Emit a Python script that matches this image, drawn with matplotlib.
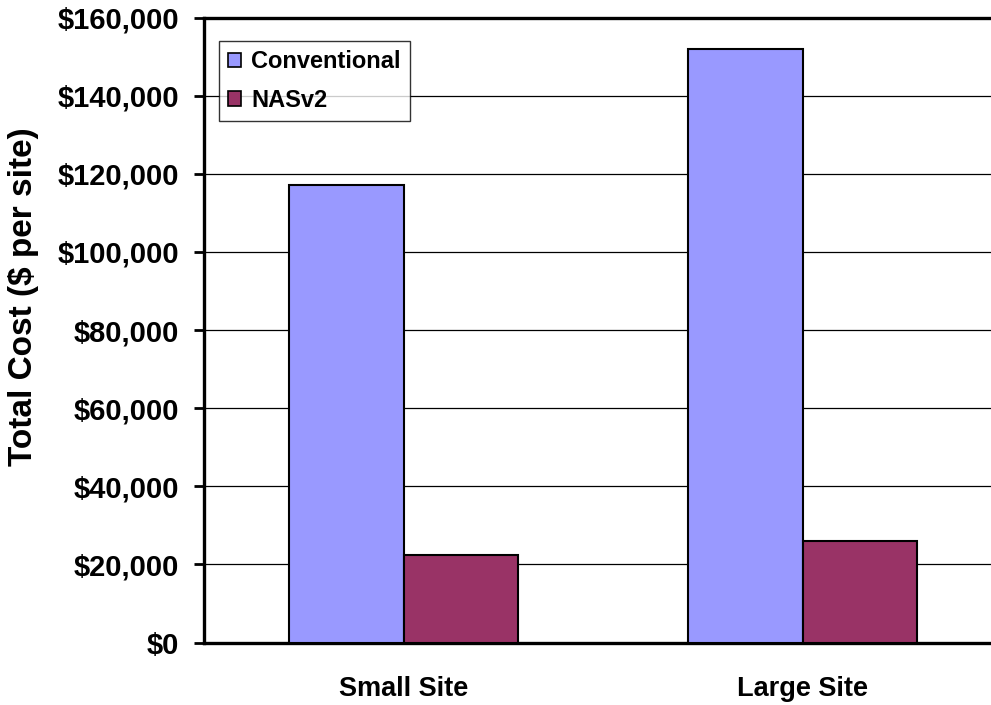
import numpy as np
import matplotlib
matplotlib.use("Agg")
import matplotlib.pyplot as plt
from matplotlib.ticker import FuncFormatter

plt.rcParams["font.family"] = ["Liberation Sans", "DejaVu Sans"]

sites = ["Small Site", "Large Site"]
conventional = [117000, 152000]
nasv2 = [22500, 26000]
y_ticks = [0, 20000, 40000, 60000, 80000, 100000, 120000, 140000, 160000]

W, H = 991, 705
fig = plt.figure(figsize=(W / 100, H / 100), dpi=100)
ax = fig.add_axes([204 / W, 1 - 642.5 / H, 798 / W, 625 / H])

x = np.arange(len(sites))
bw = 0.286
ax.bar(x - bw / 2, conventional, bw, color="#9999FF", edgecolor="black",
       linewidth=1.5, label="Conventional", zorder=3)
ax.bar(x + bw / 2, nasv2, bw, color="#993366", edgecolor="black",
       linewidth=1.5, label="NASv2", zorder=3)

ax.set_xlim(-0.5, 1.5)
ax.set_ylim(0, 160000)
ax.set_yticks(y_ticks)
ax.yaxis.set_major_formatter(FuncFormatter(lambda v, p: "${:,.0f}".format(v)))
ax.set_xticks(x)
ax.set_xticklabels(sites)

ax.grid(axis="y", color="black", linewidth=0.9, zorder=0)
for s in ["left", "bottom", "top", "right"]:
    ax.spines[s].set_linewidth(2.4)

ax.tick_params(axis="y", length=7, width=2.0, direction="out", pad=11,
               labelsize=21)
ax.tick_params(axis="x", length=0, pad=24, labelsize=19.5)
for lab in ax.get_yticklabels() + ax.get_xticklabels():
    lab.set_fontweight("bold")

ax.set_ylabel("Total Cost ($ per site)", fontsize=24, fontweight="bold",
              va="center")
ax.yaxis.set_label_coords(-0.2268, 0.553)

leg = ax.legend(loc="upper left", bbox_to_anchor=(0.0188, 0.9624),
                borderaxespad=0, prop={"weight": "bold", "size": 17},
                frameon=True, fancybox=False, edgecolor="black",
                handlelength=0.55, handleheight=0.55, handletextpad=0.4,
                labelspacing=0.65, borderpad=0.4)
leg.get_frame().set_linewidth(1.0)
for p in leg.get_patches():
    p.set_linewidth(1.2)

fig.savefig("out.png", dpi=100)
